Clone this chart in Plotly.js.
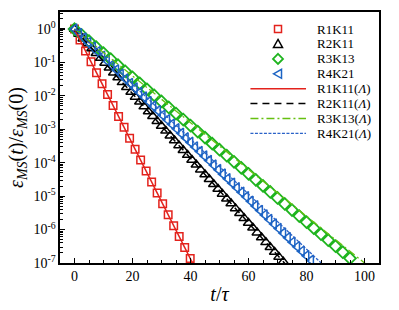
<!DOCTYPE html>
<html>
<head>
<meta charset="utf-8">
<script src="https://cdn.plot.ly/plotly-3.0.1.min.js"></script>
<style>html,body{margin:0;padding:0;background:#fff;}#chart{width:399px;height:310px;}</style>
</head>
<body>
<div id="chart"></div>
<script>
// ---- data ----
var r1_t = [0,1.9,3.8,5.7,7.6,9.5,11.4,13.3,15.2,17.1,19,20.9,22.8,24.7,26.6,28.5,30.4,32.3,34.2,36.1,38,39.9];
var r1_y = [1,0.471,0.222,0.1046,0.0493,0.02323,0.01094,5.16e-3,2.43e-3,1.145e-3,5.40e-4,2.54e-4,1.198e-4,5.64e-5,2.66e-5,1.253e-5,5.90e-6,2.78e-6,1.311e-6,6.18e-7,2.91e-7,1.371e-7];

var r2_t = [0,1.5,3,4.5,6,7.5,9,10.5,12,13.5,15,16.5,18,19.5,21,22.5,24,25.5,27,28.5,30,31.5,33,34.5,36,37.5,39,40.5,42,43.5,45,46.5,48,49.5,51,52.5,54,55.5,57,58.5,60,61.5,63,64.5,66,67.5,69,70.5,72];
var r2_y = [1,0.716,0.513,0.367,0.263,0.188,0.135,0.0965,0.0691,0.0495,0.0354,0.0254,0.0182,0.0130,9.32e-3,6.67e-3,4.78e-3,3.42e-3,2.45e-3,1.754e-3,1.256e-3,8.99e-4,6.44e-4,4.61e-4,3.30e-4,2.364e-4,1.693e-4,1.212e-4,8.68e-5,6.22e-5,4.45e-5,3.19e-5,2.28e-5,1.634e-5,1.170e-5,8.38e-6,6.00e-6,4.30e-6,3.08e-6,2.20e-6,1.578e-6,1.129e-6,8.09e-7,5.79e-7,4.15e-7,2.97e-7,2.13e-7,1.522e-7,1.090e-7];

var r3_t = [0,2.5,5,7.5,10,12.5,15,17.5,20,22.5,25,27.5,30,32.5,35,37.5,40,42.5,45,47.5,50,52.5,55,57.5,60,62.5,65,67.5,70,72.5,75,77.5,80,82.5,85,87.5,90,92.5,95];
var r3_y = [1,0.660,0.4355,0.2874,0.1897,0.1252,0.0826,0.0545,0.0360,0.02374,0.01567,0.01034,6.82e-3,4.50e-3,2.97e-3,1.96e-3,1.294e-3,8.54e-4,5.64e-4,3.72e-4,2.455e-4,1.62e-4,1.069e-4,7.06e-5,4.66e-5,3.07e-5,2.03e-5,1.338e-5,8.83e-6,5.83e-6,3.85e-6,2.54e-6,1.675e-6,1.105e-6,7.29e-7,4.81e-7,3.18e-7,2.10e-7,1.384e-7];

var r4_t = [0,1.6,3.2,4.8,6.4,8,9.6,11.2,12.8,14.4,16,17.6,19.2,20.8,22.4,24,25.6,27.2,28.8,30.4,32,33.6,35.2,36.8,38.4,40,41.6,43.2,44.8,46.4,48,49.6,51.2,52.8,54.4,56,57.6,59.2,60.8,62.4,64,65.6,67.2,68.8,70.4,72,73.6,75.2,76.8,78.4,80,81.6];
var r4_y = [1,0.7315,0.535,0.392,0.2866,0.2097,0.1534,0.1123,0.0821,0.0601,0.0440,0.0322,0.02354,0.01722,0.0126,9.22e-3,6.75e-3,4.94e-3,3.61e-3,2.64e-3,1.93e-3,1.415e-3,1.035e-3,7.57e-4,5.54e-4,4.06e-4,2.97e-4,2.17e-4,1.589e-4,1.162e-4,8.50e-5,6.22e-5,4.55e-5,3.33e-5,2.44e-5,1.783e-5,1.305e-5,9.55e-6,6.99e-6,5.11e-6,3.74e-6,2.74e-6,2.00e-6,1.465e-6,1.072e-6,7.84e-7,5.74e-7,4.20e-7,3.07e-7,2.25e-7,1.644e-7,1.203e-7];

var l1_t = [0,10,20,30,40,41];
var l1_y = [1,1.905e-2,3.63e-4,6.92e-6,1.318e-7,8.87e-8];
var l2_t = [0,10,20,30,40,50,60,70,75];
var l2_y = [1,0.1079,1.164e-2,1.256e-3,1.355e-4,1.462e-5,1.578e-6,1.702e-7,5.59e-8];
var l3_t = [0,20,40,60,80,100,102];
var l3_y = [1,0.0398,1.585e-3,6.31e-5,2.512e-6,1e-7,7.24e-8];
var l4_t = [0,20,40,60,80,88];
var l4_y = [1,0.02259,5.105e-4,1.153e-5,2.606e-7,5.72e-8];

var xTickVals = [0,20,40,60,80,100];
var yTickVals = [1,0.1,0.01,1e-3,1e-4,1e-5,1e-6,1e-7];
var yTickText = ['10<sup>0</sup>','10<sup>-1</sup>','10<sup>-2</sup>','10<sup>-3</sup>','10<sup>-4</sup>','10<sup>-5</sup>','10<sup>-6</sup>','10<sup>-7</sup>'];

var names = ['R1K11','R2K11','R3K13','R4K21','R1K11(<i>Λ</i>)','R2K11(<i>Λ</i>)','R3K13(<i>Λ</i>)','R4K21(<i>Λ</i>)'];

// ---- styles ----
var RED = '#e3221c', BLACK = '#000000', GREEN = '#1eb41e', BLUE = '#1c64c4';
var GREENL = '#66c010', BLUEL = '#2a62c8';
var markerStyles = [
  {symbol:'square-open', size:7.5, color:RED, line:{width:1.5, color:RED}},
  {symbol:'triangle-up-open', size:9, color:BLACK, line:{width:1.5, color:BLACK}},
  {symbol:'diamond-open', size:9, color:GREEN, line:{width:1.8, color:GREEN}},
  {symbol:'triangle-left-open', size:9, color:BLUE, line:{width:1.5, color:BLUE}}
];
var lineStyles = [
  {color:RED, width:1.5},
  {color:BLACK, width:1.5, dash:'7px,5px'},
  {color:GREENL, width:1.3, dash:'8px,3px,2px,3px'},
  {color:BLUEL, width:1.3, dash:'3px,1.5px'}
];

var data = [
  {x:r1_t, y:r1_y, name:names[0], mode:'markers', type:'scatter', marker:markerStyles[0]},
  {x:r2_t, y:r2_y, name:names[1], mode:'markers', type:'scatter', marker:markerStyles[1]},
  {x:r3_t, y:r3_y, name:names[2], mode:'markers', type:'scatter', marker:markerStyles[2]},
  {x:r4_t, y:r4_y, name:names[3], mode:'markers', type:'scatter', marker:markerStyles[3]},
  {x:l1_t, y:l1_y, name:names[4], mode:'lines', type:'scatter', line:lineStyles[0]},
  {x:l2_t, y:l2_y, name:names[5], mode:'lines', type:'scatter', line:lineStyles[1]},
  {x:l3_t, y:l3_y, name:names[6], mode:'lines', type:'scatter', line:lineStyles[2]},
  {x:l4_t, y:l4_y, name:names[7], mode:'lines', type:'scatter', line:lineStyles[3]}
];

var FONT = 'Liberation Serif, Times New Roman, serif';

// ---- compact legend (rows 15 px apart, as in the reference) ----
var LEG_TOP = 0.932, LEG_STEP = 0.0594;   // paper units
var LEG_SYM_X = 0.6834, LEG_L0 = 0.597, LEG_L1 = 0.7712, LEG_TXT_X = 0.7994;
var symPaths = [
  'M-3.5,-3.5H3.5V3.5H-3.5Z',
  'M0,4.5L4.5,-3.5L-4.5,-3.5Z',
  'M0,5L5,0L0,-5L-5,0Z',
  'M-4.5,0L3.5,4.5L3.5,-4.5Z'
];
var shapes = [], annotations = [];
for (var i = 0; i < names.length; i++) {
  var yy = LEG_TOP - i * LEG_STEP;
  annotations.push({xref:'paper', yref:'paper', x:LEG_TXT_X, y:yy, xanchor:'left', yanchor:'middle',
    showarrow:false, text:names[i], font:{family:FONT, size:13, color:'#000'}});
  if (i < 4) {
    shapes.push({type:'path', xref:'paper', yref:'paper', xsizemode:'pixel', ysizemode:'pixel',
      xanchor:LEG_SYM_X, yanchor:yy, path:symPaths[i],
      line:{color:markerStyles[i].color, width:markerStyles[i].line.width}, fillcolor:'rgba(0,0,0,0)'});
  } else {
    var ls = lineStyles[i-4];
    shapes.push({type:'line', xref:'paper', yref:'paper', x0:LEG_L0, x1:LEG_L1, y0:yy, y1:yy,
      line:{color:ls.color, width:ls.width, dash:ls.dash || 'solid'}});
  }
}

var layout = {
  width:399, height:310,
  margin:{l:60, r:20, t:12, b:47, pad:0},
  paper_bgcolor:'#fff', plot_bgcolor:'#fff',
  font:{family:FONT, color:'#000', size:14},
  showlegend:false,
  shapes:shapes,
  annotations:annotations,
  xaxis:{
    range:[-5,105], tickmode:'array', tickvals:xTickVals, ticks:'inside', ticklen:5, tickwidth:1.2,
    tickcolor:'#000', showgrid:false, zeroline:false, showline:true, linecolor:'#000', linewidth:1.6,
    mirror:true, tickfont:{family:FONT, size:14},
    minor:{dtick:5, ticks:'inside', ticklen:3, tickwidth:1, tickcolor:'#000', showgrid:false},
    title:{text:'<i>t</i>/<i>τ</i>', font:{family:FONT, size:20}, standoff:3}
  },
  yaxis:{
    type:'log', range:[-7,0.51], tickmode:'array', tickvals:yTickVals, ticktext:yTickText,
    ticks:'inside', ticklen:5, tickwidth:1.2, tickcolor:'#000', showgrid:false, zeroline:false,
    showline:true, linecolor:'#000', linewidth:1.6, mirror:true, tickfont:{family:FONT, size:14},
    minor:{dtick:'D1', ticks:'inside', ticklen:3, tickwidth:1, tickcolor:'#000', showgrid:false},
    title:{text:'<i>ε</i><sub><i>MS</i></sub>(<i>t</i>)/<i>ε</i><sub><i>MS</i></sub>(0)', font:{family:FONT, size:20}, standoff:4}
  }
};

Plotly.newPlot('chart', data, layout, {displayModeBar:false, staticPlot:true});
</script>
</body>
</html>
